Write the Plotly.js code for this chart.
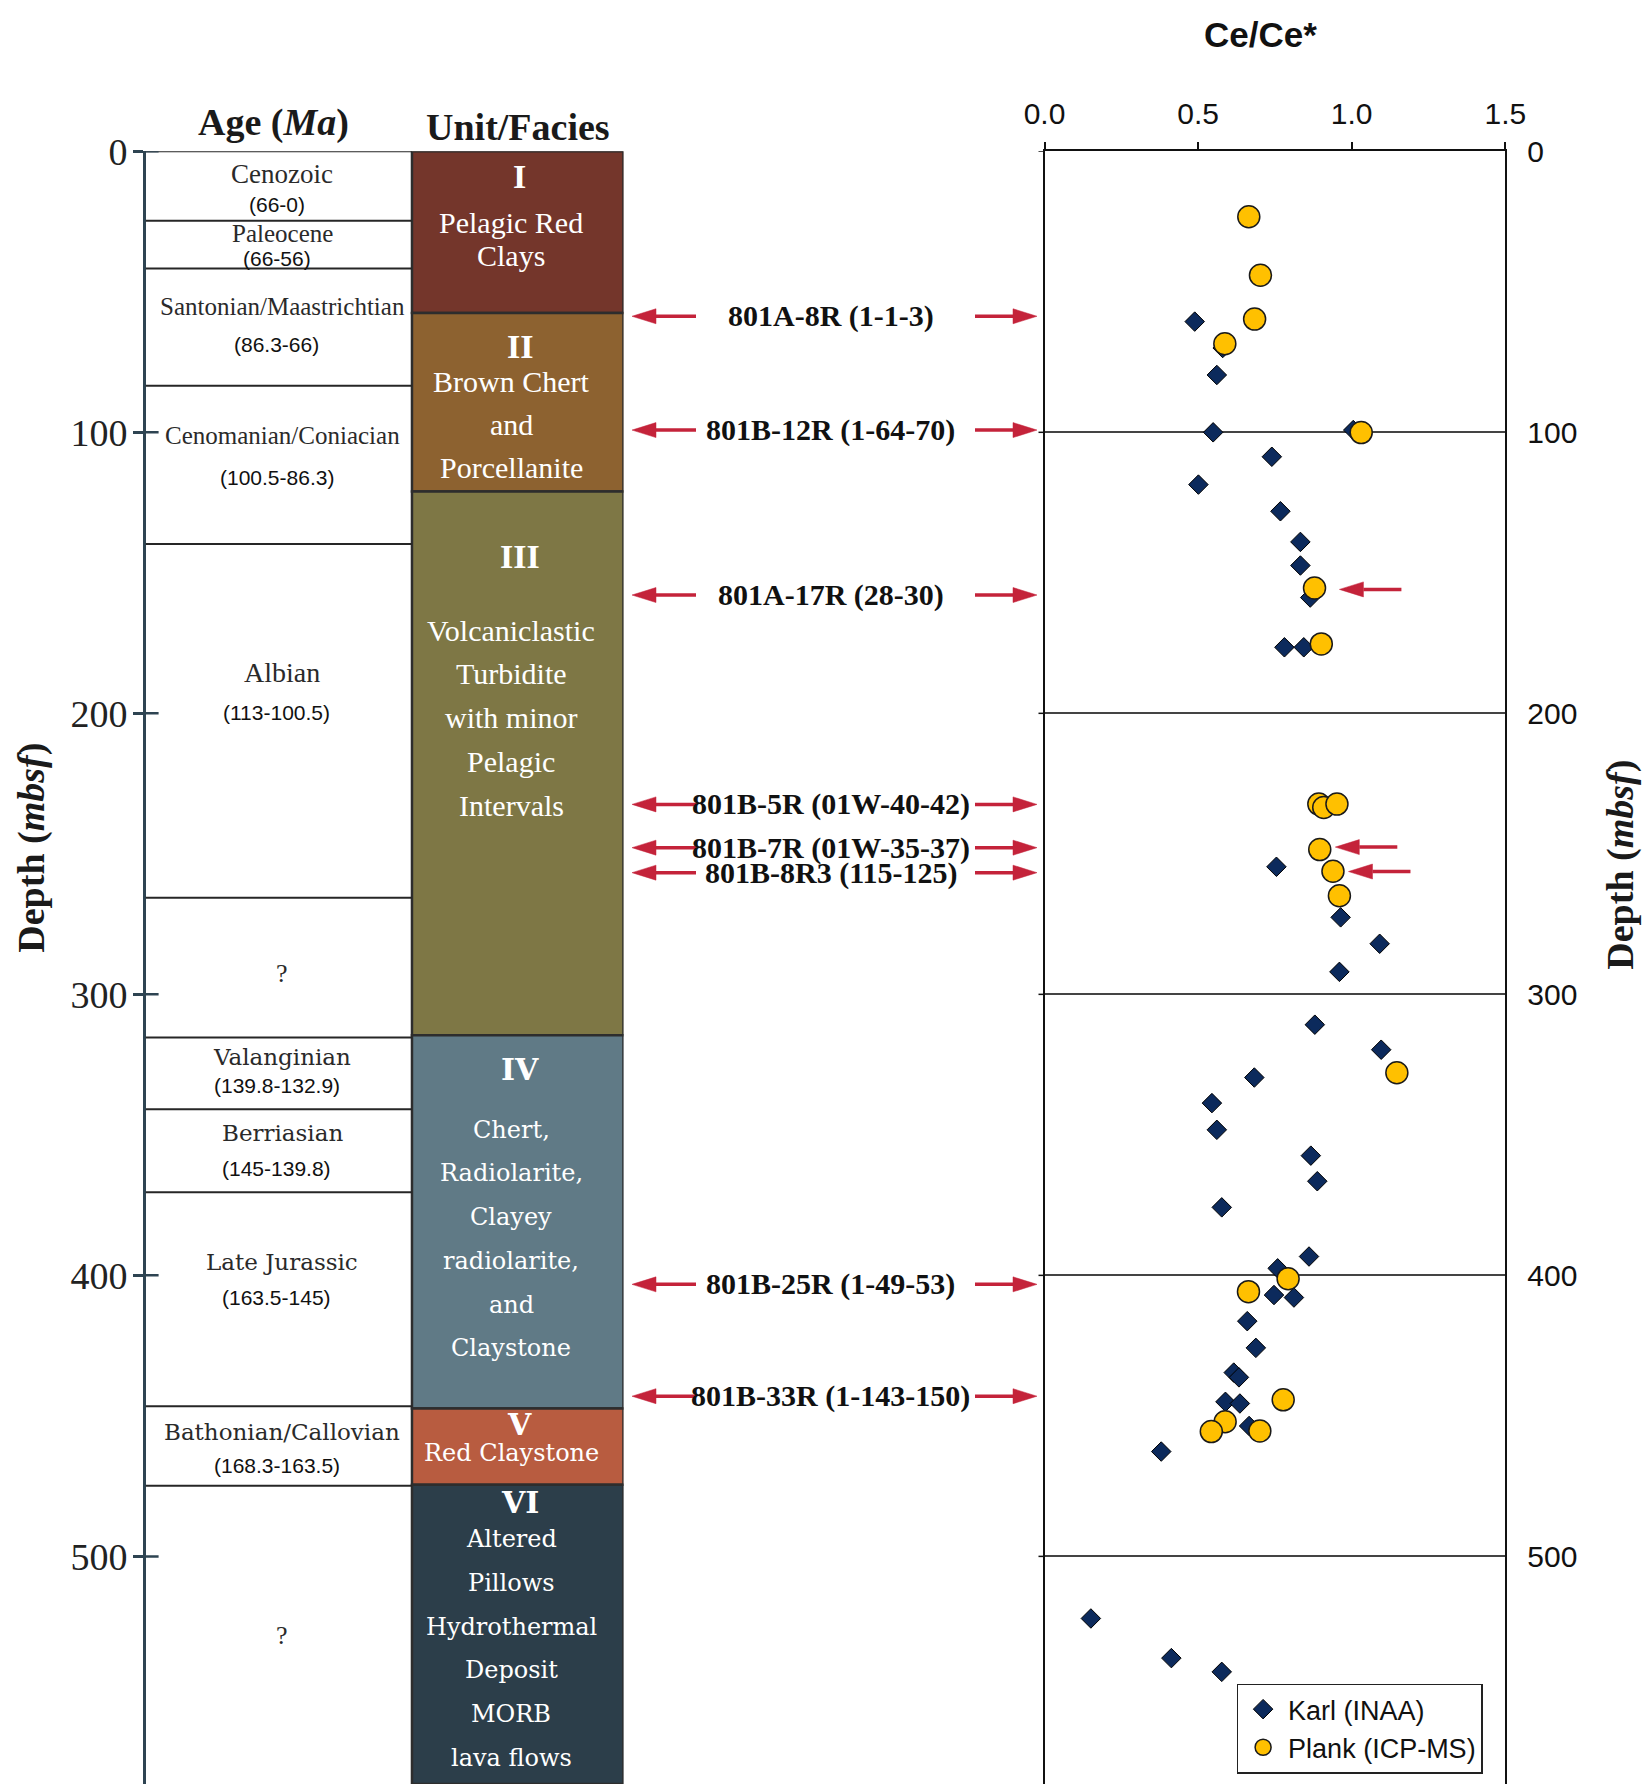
<!DOCTYPE html>
<html>
<head>
<meta charset="utf-8">
<script src="https://cdn.plot.ly/plotly-3.0.1.min.js"></script>
<style>
  html, body { margin: 0; padding: 0; background: #ffffff; }
  #chart { width: 1643px; height: 1784px; }
</style>
</head>
<body>
<div id="chart"></div>
<script>
// ---------- Site 801 stratigraphy (depths in mbsf) ----------
const ageNames = ['Cenozoic', 'Paleocene', 'Santonian/Maastrichtian', 'Cenomanian/Coniacian', 'Albian', '?',
                  'Valanginian', 'Berriasian', 'Late Jurassic', 'Bathonian/Callovian', '?'];
const ageSpans = ['(66-0)', '(66-56)', '(86.3-66)', '(100.5-86.3)', '(113-100.5)', '',
                  '(139.8-132.9)', '(145-139.8)', '(163.5-145)', '(168.3-163.5)', ''];
const ageTops = [0, 24.7, 41.7, 83.4, 139.7, 265.6, 315.4, 340.9, 370.4, 446.6, 474.9];
const columnBase = 581;

const unitNumerals = ['I', 'II', 'III', 'IV', 'V', 'VI'];
const unitFacies = [
  ['Pelagic Red', 'Clays'],
  ['Brown Chert', 'and', 'Porcellanite'],
  ['Volcaniclastic', 'Turbidite', 'with minor', 'Pelagic', 'Intervals'],
  ['Chert,', 'Radiolarite,', 'Clayey', 'radiolarite,', 'and', 'Claystone'],
  ['Red Claystone'],
  ['Altered', 'Pillows', 'Hydrothermal', 'Deposit', 'MORB', 'lava flows']
];
const unitTops = [0, 57.5, 121.1, 314.6, 447.4, 474.5];

// ---------- Samples marked on the section ----------
const sampleNames = ['801A-8R (1-1-3)', '801B-12R (1-64-70)', '801A-17R (28-30)', '801B-5R (01W-40-42)',
                     '801B-7R (01W-35-37)', '801B-8R3 (115-125)', '801B-25R (1-49-53)', '801B-33R (1-143-150)'];
const sampleDepths = [58.7, 99.2, 157.9, 232.4, 247.8, 256.7, 403.2, 443.0];

// ---------- Ce/Ce* measurements ----------
const karlCe = [0.489, 0.58, 0.561, 0.549, 1.005, 0.74, 0.501, 0.768, 0.833, 0.833, 0.865, 0.781, 0.844,
                0.755, 0.964, 1.091, 0.96, 0.88, 1.096, 0.683, 0.545, 0.561, 0.867, 0.888, 0.577, 0.861,
                0.759, 0.747, 0.812, 0.66, 0.688, 0.616, 0.633, 0.589, 0.636, 0.666, 0.38, 0.151, 0.413, 0.577];
const karlDepth = [60.6, 70.0, 79.6, 100.0, 99.2, 108.7, 118.6, 128.1, 139.0, 147.4, 158.8, 176.5, 176.5,
                   254.6, 272.6, 282.0, 292.0, 310.8, 319.7, 329.6, 338.7, 348.2, 357.4, 366.5, 375.8, 393.3,
                   397.5, 407.0, 407.9, 416.3, 425.8, 434.6, 436.3, 445.0, 445.6, 453.6, 462.7, 522.1, 536.2, 541.1];
const plankCe = [0.665, 0.703, 0.684, 0.587, 1.031, 0.879, 0.901, 0.893, 0.909, 0.952, 0.896, 0.939, 0.96,
                 1.147, 0.793, 0.664, 0.777, 0.588, 0.543, 0.701];
const plankDepth = [23.3, 44.1, 59.7, 68.5, 100.1, 155.4, 175.3, 232.3, 233.5, 232.3, 248.5, 256.2, 264.9,
                    327.9, 401.2, 405.8, 444.3, 452.1, 455.6, 455.4];

// Points singled out with a pointer inside the Ce/Ce* panel
const calloutDepth = [155.9, 247.6, 256.3];
const calloutHeadCe = [0.960, 0.9466, 0.9895];

const depthTicks = [0, 100, 200, 300, 400, 500];
const ceTicks = [0, 0.5, 1.0, 1.5];

// ---------- Layout constants ----------
const W = 1643, H = 1784;
const plotTop = 151.3;
const yDomain = [0, 1 - plotTop / H];
const pxPerM = (H - plotTop) / columnBase;
const SECTION_LEFT = 145.6, SECTION_RIGHT = 623.5;
const CE_LEFT = 1044.5, CE_RIGHT = 1505.3;
const AGE_SPLIT = 0.5574;          // age / unit column boundary on the section axis
const AXIS = '#2e4452';
const RED = '#c4233a';
const SERIF = 'Liberation Serif, Times New Roman, serif';
const WIDE_SERIF = 'DejaVu Serif, serif';
const SANS = 'Liberation Sans, Arial, sans-serif';

const unitColors = ['#74362b', '#8d6230', '#7e7745', '#607a86', '#b85c40', '#2c3e4a'];
const unitWide = [false, false, false, true, true, true];
const unitNumeralAt = [8.9, 69.6, 144.1, 326.7, 453.0, 481.0];
const unitLineStart = [25.5, 81.8, 170.4, 348.2, 463.2, 493.9];
const unitLineStep = [11.7, 15.4, 15.6, 15.55, 0, 15.55];

const ageNameAt = [8.1, 29.1, 55.1, 101.2, 185.4, 292.7, 322.3, 349.4, 395.1, 455.9, 528.3];
const ageSpanAt = [19.0, 38.1, 68.8, 116.2, 199.6, null, 332.4, 361.9, 407.7, 467.6, null];
const ageNameSize = [27, 25, 25, 25, 28, 26, 23, 23, 23, 23, 26];
const ageNameWide = [false, false, false, false, false, false, true, true, true, true, false];

const shapes = [];
const annotations = [];

// Unit boxes
unitTops.forEach((top, i) => {
  const bottom = i + 1 < unitTops.length ? unitTops[i + 1] : columnBase;
  shapes.push({
    type: 'rect', xref: 'x', yref: 'y', x0: AGE_SPLIT, x1: 1, y0: top, y1: bottom,
    fillcolor: unitColors[i], line: { color: '#2d2d2d', width: 2.5 }
  });
});

// Age interval boundaries
ageTops.forEach(top => {
  shapes.push({
    type: 'line', xref: 'x', yref: 'y', x0: 0, x1: AGE_SPLIT, y0: top, y1: top,
    line: { color: '#262626', width: 2 }
  });
});

// Inner halves of the depth ticks on the section axis (cross-shaped ticks)
const sectionWidthPx = SECTION_RIGHT - SECTION_LEFT;
depthTicks.forEach(d => {
  shapes.push({
    type: 'line', xref: 'x', yref: 'y', x0: 0, x1: 13 / sectionWidthPx, y0: d, y1: d,
    line: { color: AXIS, width: 2.5 }
  });
});

// Short outward ticks on the left frame of the Ce/Ce* panel
depthTicks.forEach(d => {
  shapes.push({
    type: 'line', xref: 'paper', yref: 'y2', x0: (CE_LEFT - 6) / W, x1: CE_LEFT / W, y0: d, y1: d,
    line: { color: '#111', width: 1.5 }
  });
});

// Age labels
ageNames.forEach((name, i) => {
  annotations.push({
    xref: 'x', yref: 'y', x: 0.2858, y: ageNameAt[i], text: name, showarrow: false,
    xanchor: 'center', yanchor: 'middle',
    font: { family: ageNameWide[i] ? WIDE_SERIF : SERIF, size: ageNameSize[i], color: '#2a2a2a' }
  });
  if (ageSpans[i]) {
    annotations.push({
      xref: 'x', yref: 'y', x: 0.2739, y: ageSpanAt[i], text: ageSpans[i], showarrow: false,
      xanchor: 'center', yanchor: 'middle',
      font: { family: SANS, size: 21, color: '#111' }
    });
  }
});

// Unit labels
unitNumerals.forEach((num, i) => {
  const wide = unitWide[i];
  annotations.push({
    xref: 'x', yref: 'y', x: 0.783, y: unitNumeralAt[i], text: '<b>' + num + '</b>', showarrow: false,
    xanchor: 'center', yanchor: 'middle',
    font: { family: wide ? WIDE_SERIF : SERIF, size: wide ? 30 : 34, color: '#ffffff' }
  });
  unitFacies[i].forEach((line, k) => {
    annotations.push({
      xref: 'x', yref: 'y', x: 0.765, y: unitLineStart[i] + k * unitLineStep[i], text: line, showarrow: false,
      xanchor: 'center', yanchor: 'middle',
      font: { family: wide ? WIDE_SERIF : SERIF, size: wide ? 24 : 30, color: '#ffffff' }
    });
  });
});

// Arrow helper: shaft plus filled triangular head
function arrow(xref, yref, xTail, xHead, y, headLen, halfW) {
  const dir = Math.sign(xHead - xTail);
  const xBase = xHead - dir * headLen;
  shapes.push({
    type: 'line', xref: xref, yref: yref, x0: xTail, x1: xBase, y0: y, y1: y,
    line: { color: RED, width: 3.5 }
  });
  shapes.push({
    type: 'path', xref: xref, yref: yref,
    path: `M ${xHead},${y} L ${xBase},${y - halfW} L ${xBase},${y + halfW} Z`,
    fillcolor: RED, line: { color: RED, width: 0.5 }
  });
}

const headLenPaper = 24 / W;
const headHalfDepth = 7.5 / pxPerM;

// Sample labels with pointers to the section and to the Ce/Ce* panel
sampleNames.forEach((name, i) => {
  annotations.push({
    xref: 'paper', yref: 'y', x: 830.6 / W, y: sampleDepths[i], text: '<b>' + name + '</b>', showarrow: false,
    xanchor: 'center', yanchor: 'middle',
    font: { family: SERIF, size: 30, color: '#111' }
  });
  arrow('paper', 'y', 696 / W, 632 / W, sampleDepths[i], headLenPaper, headHalfDepth);
  arrow('paper', 'y', 975 / W, 1037 / W, sampleDepths[i], headLenPaper, headHalfDepth);
});

// Pointers inside the Ce/Ce* panel
const cePerPx = 1.5 / (CE_RIGHT - CE_LEFT);
calloutDepth.forEach((d, i) => {
  arrow('x2', 'y2', calloutHeadCe[i] + 62 * cePerPx, calloutHeadCe[i], d, 24 * cePerPx, headHalfDepth);
});

// Headings and axis titles
annotations.push(
  { xref: 'paper', yref: 'paper', x: 273 / W, y: 1 - 123 / H, text: '<b>Age (<i>Ma</i>)</b>', showarrow: false,
    xanchor: 'center', yanchor: 'middle', font: { family: SERIF, size: 38, color: '#1a1a1a' } },
  { xref: 'paper', yref: 'paper', x: 517.7 / W, y: 1 - 127.4 / H, text: '<b>Unit/Facies</b>', showarrow: false,
    xanchor: 'center', yanchor: 'middle', font: { family: SERIF, size: 38, color: '#1a1a1a' } },
  { xref: 'paper', yref: 'paper', x: 32 / W, y: 1 - 847.7 / H, text: '<b>Depth (<i>mbsf</i>)</b>', showarrow: false,
    textangle: -90, xanchor: 'center', yanchor: 'middle', font: { family: SERIF, size: 38, color: '#1a1a1a' } },
  { xref: 'paper', yref: 'paper', x: 1621 / W, y: 1 - 864.7 / H, text: '<b>Depth (<i>mbsf</i>)</b>', showarrow: false,
    textangle: -90, xanchor: 'center', yanchor: 'middle', font: { family: SERIF, size: 38, color: '#1a1a1a' } },
  { xref: 'paper', yref: 'paper', x: 1260.7 / W, y: 1 - 34 / H, text: '<b>Ce/Ce*</b>', showarrow: false,
    xanchor: 'center', yanchor: 'middle', font: { family: SANS, size: 35, color: '#111' } }
);

const data = [
  {
    type: 'scatter', mode: 'markers', name: 'Karl (INAA)', x: karlCe, y: karlDepth, xaxis: 'x2', yaxis: 'y2',
    marker: { symbol: 'diamond', size: 15, color: '#0c2a5c', line: { color: '#000000', width: 1 } },
    cliponaxis: false
  },
  {
    type: 'scatter', mode: 'markers', name: 'Plank (ICP-MS)', x: plankCe, y: plankDepth, xaxis: 'x2', yaxis: 'y2',
    marker: { symbol: 'circle', size: 22, color: '#ffc000', line: { color: '#1a1a1a', width: 1.5 } },
    cliponaxis: false
  }
];

const layout = {
  width: W, height: H,
  margin: { l: 0, r: 0, t: 0, b: 0 },
  paper_bgcolor: '#ffffff', plot_bgcolor: 'rgba(0,0,0,0)',
  showlegend: true,
  xaxis: { domain: [SECTION_LEFT / W, SECTION_RIGHT / W], range: [0, 1], visible: false, fixedrange: true },
  yaxis: {
    domain: yDomain, range: [columnBase, 0], anchor: 'x', side: 'left',
    showline: true, linecolor: AXIS, linewidth: 2.5,
    ticks: 'outside', ticklen: 10, tickwidth: 2.5, tickcolor: AXIS,
    tickmode: 'array', tickvals: depthTicks,
    tickfont: { family: SERIF, size: 38, color: '#222' }, ticklabelstandoff: -2,
    showgrid: false, zeroline: false, fixedrange: true
  },
  xaxis2: {
    domain: [CE_LEFT / W, CE_RIGHT / W], range: [0, 1.5], anchor: 'y2', side: 'top',
    showline: true, linecolor: '#111', linewidth: 2,
    ticks: 'outside', ticklen: 7, tickwidth: 2, tickcolor: '#111',
    tickmode: 'array', tickvals: ceTicks, tickformat: '.1f',
    tickfont: { family: SANS, size: 30, color: '#111' }, ticklabelstandoff: 6,
    showgrid: false, zeroline: false, fixedrange: true
  },
  yaxis2: {
    domain: yDomain, range: [columnBase, 0], anchor: 'x2', side: 'right',
    showline: true, mirror: true, linecolor: '#111', linewidth: 2,
    ticks: '', tickmode: 'array', tickvals: depthTicks,
    tickfont: { family: SANS, size: 30, color: '#111' }, ticklabelstandoff: 14,
    showgrid: true, gridcolor: '#444444', gridwidth: 2, zeroline: false, fixedrange: true
  },
  legend: {
    x: 1236.6 / W, y: 1 - 1683.6 / H, xanchor: 'left', yanchor: 'top',
    bgcolor: '#ffffff', bordercolor: '#222222', borderwidth: 1.5, itemwidth: 40,
    font: { family: SANS, size: 27, color: '#111' }
  },
  shapes: shapes,
  annotations: annotations
};

Plotly.newPlot('chart', data, layout, { staticPlot: true, displayModeBar: false });
</script>
</body>
</html>
